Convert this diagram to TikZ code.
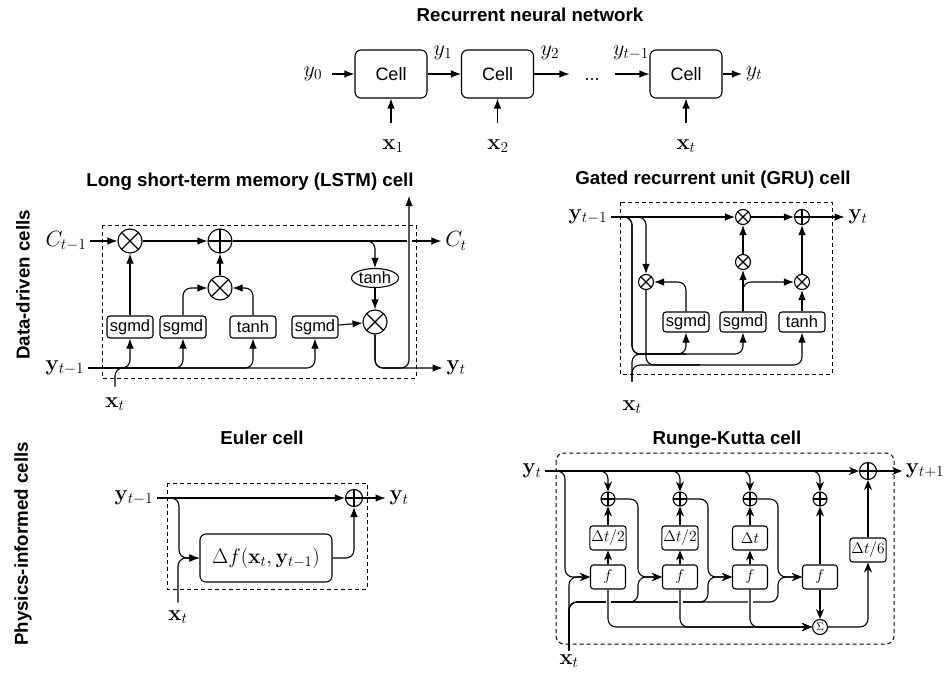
\RequirePackage{fix-cm}
\documentclass[tikz,border=0pt]{standalone}
\usepackage{amsmath}
\usepackage[no-math]{fontspec}
\setmainfont{Liberation Sans}
\usetikzlibrary{arrows.meta, positioning, shapes.geometric, calc}

\begin{document}
\begin{tikzpicture}[x=1pt, y=-1pt, >={Latex[length=10pt, width=7.5pt]}, line width=1.1pt,
    font=\fontsize{22}{26}\selectfont,
    ttl/.style={font=\fontsize{18.7}{22}\selectfont\bfseries},
    cellbox/.style={draw, rounded corners=6pt, minimum width=72pt, minimum height=48pt, font=\fontsize{18}{20}\selectfont},
    gate/.style={draw, rounded corners=3pt, minimum width=46pt, minimum height=22pt, inner sep=1pt, font=\fontsize{16.5}{18}\selectfont},
    rkbox/.style={draw, rounded corners=3pt, minimum width=35pt, minimum height=24pt, inner sep=1.5pt, font=\fontsize{15.5}{17}\selectfont},
    mul/.style={circle, draw, inner sep=0pt, minimum size=#1, path picture={
        \draw (path picture bounding box.north west) -- (path picture bounding box.south east)
              (path picture bounding box.south west) -- (path picture bounding box.north east);}},
    mul/.default=24pt,
    add/.style={circle, draw, inner sep=0pt, minimum size=#1, path picture={
        \draw (path picture bounding box.north) -- (path picture bounding box.south)
              (path picture bounding box.west) -- (path picture bounding box.east);}},
    add/.default=24pt,
    frame/.style={dash pattern=on 4pt off 3pt, line width=1pt},
    wire/.style={->, rounded corners=8pt},
    cut/.style={white, line width=5pt}]
  \useasboundingbox (0,0) rectangle (944,674);

  % Recurrent neural network
  \begin{scope}
    \node[ttl] (rnntitle) at (530,15) {Recurrent neural network};
    \node[cellbox] (cell1) at (391,74) {Cell};
    \node[cellbox] (cell2) at (497.5,74) {Cell};
    \node[cellbox] (cell3) at (686,74) {Cell};
    \node (y0) at (313,74) {$y_0$};
    \node (y1) at (443,53) {$y_1$};
    \node (y2) at (550,53) {$y_2$};
    \node (ytm) at (631,53) {$y_{t-1}$};
    \node (yt) at (754,74) {$y_t$};
    \node[font=\fontsize{18}{20}\selectfont, minimum width=44pt, text height=13pt, text depth=0pt] (dots) at (592,74) {...};
    \draw[->, shorten <=6pt] (y0) -- (cell1);
    \draw[->] (cell1) -- (cell2);
    \draw[->] (cell2) -- (dots);
    \draw[->] (dots) -- (cell3);
    \draw[->] (cell3) -- (yt);
    \foreach \idx/\lab/\px in {1/1/393, 2/2/498, 3/t/686} {
      \node (x\idx) at (\px,146) {$\mathbf{x}_{\lab}$};
      \draw[->, shorten <=13pt] (cell\idx.south |- x\idx.north) -- (cell\idx.south);
    }
  \end{scope}

  % LSTM
  \begin{scope}
    \node[ttl] (lstmtitle) at (250,182) {Long short-term memory (LSTM) cell};
    \node[ttl, rotate=90] (datadriven) at (23,285) {Data-driven cells};
    \draw[frame] (102,225) rectangle (416,378);
    \node (lcprev) at (66,241) {$C_{t-1}$};
    \node (lcnext) at (456,241) {$C_t$};
    \node (lyprev) at (65,368) {$\mathbf{y}_{t-1}$};
    \node (lynext) at (456,368) {$\mathbf{y}_t$};
    \node (lxt) at (115,404) {$\mathbf{x}_t$};
    \node[mul] (lforget) at (130,241) {};
    \node[add] (lsum) at (220,241) {};
    \node[mul] (linput) at (220,288) {};
    \node[mul] (lout) at (375,322) {};
    \node[draw, ellipse, minimum width=47pt, minimum height=19pt, inner sep=0pt,
          font=\fontsize{16.5}{18}\selectfont] (ltanhc) at (375,278) {tanh};
    \node[gate] (lg1) at (130,327) {sgmd};
    \node[gate] (lg2) at (183,327) {sgmd};
    \node[gate] (lg3) at (253,327) {tanh};
    \node[gate] (lg4) at (315,327) {sgmd};
    \coordinate (lup) at (409,196);
    \draw[->] (lcprev) -- (lforget);
    \draw[->] (lforget) -- (lsum);
    \draw[->] (lsum) -- (lcnext);
    \draw[wire] (lsum.east) -| (ltanhc.north);
    \draw[->] (ltanhc) -- (lout);
    \draw[->] (lg1) -- (lforget);
    \draw[wire] (lg2.north) |- (linput.west);
    \draw[wire] (lg3.north) |- (linput.east);
    \draw[->] (linput) -- (lsum);
    \draw[->] (lg4) -- (lout);
    \foreach \g in {lg1, lg2, lg3, lg4}
      \draw[wire] (lyprev.east) -| (\g.south);
    \draw[rounded corners=8pt, shorten <=7pt] (lxt.north) -- (lxt.north |- lyprev) -- (lg1.south |- lyprev);
    \draw[cut] ($(lsum -| lup)+(0,-5)$) -- ($(lsum -| lup)+(0,5)$);
    \draw[->, rounded corners=8pt] (lout.south) |- (lyprev -| lup) -- (lup);
    \draw[wire] (lout.south) |- (lynext.west);
  \end{scope}

  % GRU
  \begin{scope}
    \node[ttl] (grutitle) at (713,180) {Gated recurrent unit (GRU) cell};
    \draw[frame] (620,202) rectangle (832,374);
    \node (gyprev) at (588,217) {$\mathbf{y}_{t-1}$};
    \node (gynext) at (858,217) {$\mathbf{y}_t$};
    \node (gxt) at (632,407) {$\mathbf{x}_t$};
    \node[mul=15pt] (gmtop) at (743,217) {};
    \node[add=15pt] (gsum) at (802,217) {};
    \node[mul=15pt] (gmmid) at (743,262) {};
    \node[mul=15pt] (gmright) at (802,282) {};
    \node[mul=15pt] (gmleft) at (646,282) {};
    \node[gate, minimum height=20pt] (gg1) at (686,322) {sgmd};
    \node[gate, minimum height=20pt] (gg2) at (743,322) {sgmd};
    \node[gate, minimum height=20pt] (gg3) at (802,322) {tanh};
    \coordinate (gbus) at (632,354);
    \coordinate (gbot) at (700,365);
    \draw[->] (gyprev) -- (gmtop);
    \draw[->] (gmtop) -- (gsum);
    \draw[->] (gsum) -- (gynext);
    \draw[->] (gmmid) -- (gmtop);
    \draw[->] (gg2) -- (gmmid);
    \draw[wire] (gg2.north) |- (gmright.west);
    \draw[->] (gg3) -- (gmright);
    \draw[->] (gmright) -- (gsum);
    \draw[wire] (gg1.north) |- (gmleft.east);
    \draw[wire] (gyprev.east) -| (gmleft.north);
    \draw[wire] (gyprev.east) -| (gbus) -| (gg1.south);
    \draw[wire] (gyprev.east) -| (gbus) -| (gg2.south);
    \draw[wire] (gmleft.south) -- (gmleft.south |- gbot) -| (gg3.south);
    \draw[rounded corners=8pt, shorten <=15pt] (gxt.north) -- (gbus) -- (gbus -| gg1);
    \draw[rounded corners=8pt, shorten <=15pt] (gxt.north) -- (gxt.north |- gbot) -- (gbot);
  \end{scope}

  % Euler
  \begin{scope}
    \node[ttl] (eulertitle) at (262,438) {Euler cell};
    \node[ttl, rotate=90] (physics) at (23,544) {Physics-informed cells};
    \draw[frame] (167,483) rectangle (367,589);
    \node (eyprev) at (134,498) {$\mathbf{y}_{t-1}$};
    \node (eynext) at (399,498) {$\mathbf{y}_t$};
    \node (ext) at (178,617) {$\mathbf{x}_t$};
    \node[add=17pt] (esum) at (354,498) {};
    \node[cellbox, minimum width=132pt, font=\fontsize{21}{25}\selectfont] (estep) at (266,558)
      {$\Delta f(\mathbf{x}_t,\mathbf{y}_{t-1})$};
    \coordinate (ejoin) at (179,558);
    \draw[->] (eyprev) -- (esum);
    \draw[->] (esum) -- (eynext);
    \draw[wire] (eyprev.east) -| (ejoin) -- (estep.west);
    \draw[wire, shorten <=4pt] (ext.north) |- (estep.west);
    \draw[wire] (estep.east) -| (esum.south);
  \end{scope}

  % Runge-Kutta
  \begin{scope}[>={Stealth[length=10pt, width=8pt]}]
    \node[ttl] (rktitle) at (727,440) {Runge-Kutta cell};
    \draw[frame, rounded corners=8pt] (556,453) rectangle (894,644);
    \node (ryt) at (532,471) {$\mathbf{y}_t$};
    \node (rynext) at (925,471) {$\mathbf{y}_{t+1}$};
    \node (rxt) at (569,661) {$\mathbf{x}_t$};
    \node[add=17pt] (rsum) at (868,471) {};
    \foreach \idx/\px in {1/608, 2/680, 3/750, 4/820} {
      \node[add=14pt] (rp\idx) at (\px,499) {};
      \node[rkbox] (rf\idx) at (\px,577) {$f$};
    }
    \node[rkbox] (rd1) at (608,538) {$\Delta t/2$};
    \node[rkbox] (rd2) at (680,538) {$\Delta t/2$};
    \node[rkbox] (rd3) at (750,538) {$\Delta t$};
    \node[rkbox] (rd6) at (868,550) {$\Delta t/6$};
    \node[circle, draw, inner sep=0pt, minimum size=15pt, font=\fontsize{11}{12}\selectfont] (rsig) at (820,627) {$\Sigma$};
    \coordinate (rin) at (565,577);
    \coordinate (rrow) at (600,602);
    \coordinate (rc1) at (638,577);
    \coordinate (rc2) at (708,577);
    \coordinate (rc3) at (778,577);
    \draw[->] (ryt) -- (rsum);
    \draw[->] (rsum) -- (rynext);
    \foreach \idx in {1,...,4}
      \draw[wire] (ryt.east) -| (rp\idx.north);
    \foreach \idx in {1,2,3} {
      \draw[->] (rf\idx) -- (rd\idx);
      \draw[->] (rd\idx) -- (rp\idx);
    }
    \draw[->] (rf4) -- (rp4);
    \draw[wire] (ryt.east) -| (rin) -- (rf1.west);
    \draw[wire] (rxt.north) |- (rf1.west);
    \foreach \idx/\nxt in {1/2, 2/3, 3/4} {
      \draw[wire] (rp\idx.east) -| (rc\idx) -- (rf\nxt.west);
      \draw[wire] (rxt.north) |- (rrow -| rc\idx) -- (rc\idx) -- (rf\nxt.west);
    }
    \foreach \idx in {1,2,3} {
      \draw[cut] ($(rf\idx |- rrow)+(0,-4)$) -- ($(rf\idx |- rrow)+(0,4)$);
      \draw[wire] (rf\idx.south) |- (rsig.west);
    }
    \draw[->] (rf4) -- (rsig);
    \draw[wire] (rsig.east) -| (rd6.south);
    \draw[->] (rd6) -- (rsum);
  \end{scope}
\end{tikzpicture}
\end{document}
